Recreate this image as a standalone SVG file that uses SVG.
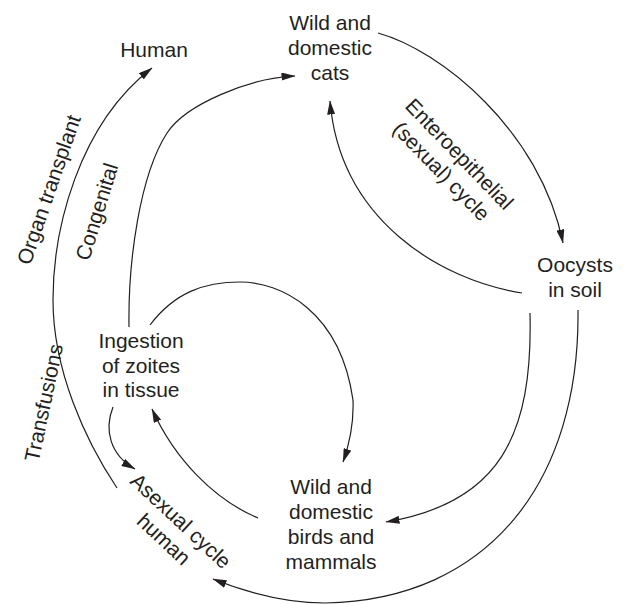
<svg xmlns="http://www.w3.org/2000/svg" width="629" height="605" viewBox="0 0 629 605">
<style>
text{font-family:"Liberation Sans",Arial,sans-serif;font-size:21px;fill:#231f20;text-anchor:middle}
.c{fill:none;stroke:#231f20;stroke-width:1.2}
.a{marker-end:url(#ah)}
</style>
<defs>
<marker id="ah" viewBox="0 0 14 8" refX="13.5" refY="4" markerWidth="14" markerHeight="8" markerUnits="userSpaceOnUse" orient="auto"><path d="M0,0 L14,4 L0,8 z" fill="#231f20"/></marker>
</defs>
<g id="connectors">
<path class="c a" d="M117,488 C85,440 53,370 53,300 C53,230 78,125 152,68"/>
<path class="c a" d="M129,327 C128,260 140,175 167,133 C186,104 250,78 295,76"/>
<path class="c a" d="M378,33 C440,50 540,130 563,243"/>
<path class="c a" d="M522,293 C440,280 340,220 330,101"/>
<path class="c a" d="M530,313 C533,435 500,503 386,522"/>
<path class="c a" d="M578,310 C580,480 490,600 325,603 C285,603 248,593 213,579"/>
<path class="c a" d="M150,325 C175,292 205,282 240,282 C280,282 340,310 353,400 C354,425 349,445 343,462"/>
<path class="c a" d="M258,518 C215,500 175,460 152,409"/>
<path class="c a" d="M113,407 C104,430 110,455 135,469"/>
</g>
<g id="human"><text x="154" y="57">Human</text></g>
<g id="cats"><text x="330" y="30">Wild and</text><text x="330" y="55">domestic</text><text x="330" y="80">cats</text></g>
<g id="oocysts"><text x="575" y="272">Oocysts</text><text x="575" y="297">in soil</text></g>
<g id="ingestion"><text x="141" y="348">Ingestion</text><text x="141" y="373">of zoites</text><text x="141" y="397">in tissue</text></g>
<g id="birds"><text x="331" y="494">Wild and</text><text x="331" y="519">domestic</text><text x="331" y="544">birds and</text><text x="331" y="569">mammals</text></g>
<g id="asexual" transform="translate(171.5,531) rotate(43)"><text x="0" y="-6.5">Asexual cycle</text><text x="0" y="18.5">human</text></g>
<g id="labels">
<text transform="translate(50,190) rotate(-71)" x="0" y="6">Organ transplant</text>
<text transform="translate(98,212) rotate(-73)" x="0" y="6">Congenital</text>
<text transform="translate(45,403) rotate(-78)" x="0" y="6">Transfusions</text>
<g transform="translate(449.5,163.5) rotate(46)"><text x="0" y="-6.5">Enteroepithelial</text><text x="0" y="18.5">(sexual) cycle</text></g>
</g>
</svg>
